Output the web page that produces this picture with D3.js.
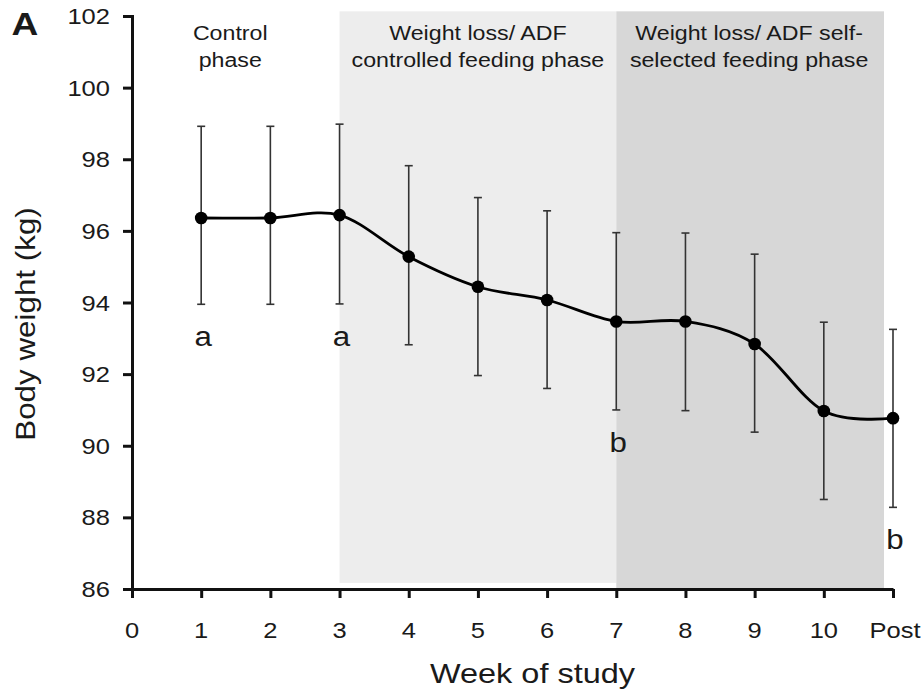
<!DOCTYPE html>
<html>
<head>
<meta charset="utf-8">
<script src="https://cdn.jsdelivr.net/npm/d3@7"></script>
<style>
  body { margin: 0; background: #fff; }
  text { font-family: "Liberation Sans", Arial, sans-serif; fill: #1a1a1a; }
</style>
</head>
<body>
<svg id="chart"></svg>
<script>
// data
const weeks = [1, 2, 3, 4, 5, 6, 7, 8, 9, 10, 11];
const meanWeight = [96.36, 96.36, 96.44, 95.28, 94.44, 94.07, 93.47, 93.47, 92.84, 90.97, 90.77];
const upperBar = [98.92, 98.92, 98.98, 97.82, 96.93, 96.56, 95.95, 95.94, 95.35, 93.45, 93.25];
const lowerBar = [93.95, 93.95, 93.96, 92.82, 91.96, 91.60, 91.00, 90.98, 90.38, 88.50, 88.28];
const xTickValues = [0, 1, 2, 3, 4, 5, 6, 7, 8, 9, 10, 11];
const xTickLabels = ['0', '1', '2', '3', '4', '5', '6', '7', '8', '9', '10', 'Post'];
const yTickValues = [86, 88, 90, 92, 94, 96, 98, 100, 102];
const phaseStart = [3, 7];
const phaseEnd = [7, 10.87];
const phaseColor = ['#ededed', '#d7d7d7'];
const phaseLabels = [
    {x: 1.42, lines: ['Control', 'phase']},
    {x: 5.0, lines: ['Weight loss/ ADF', 'controlled feeding phase']},
    {x: 8.92, lines: ['Weight loss/ ADF self-', 'selected feeding phase']}
];
const sigWeeks = [1, 3, 7, 11];
const sigLetters = ['a', 'a', 'b', 'b'];

const width = 924, height = 689;
const margin = {top: 16, right: 31, bottom: 100, left: 132};
const sx = 1.16; // the source figure is a bit stretched sideways

const svg = d3.select('#chart').attr('width', width).attr('height', height);

const xScale = d3.scaleLinear().domain([0, 11]).range([margin.left, width - margin.right]);
const yScale = d3.scaleLinear().domain([86, 102]).range([height - margin.bottom, margin.top]);

// stretched text helper
function label(g, x, y, txt, size, anchor, weight) {
    return g.append('text')
        .attr('transform', `translate(${x},${y}) scale(${sx},1)`)
        .attr('text-anchor', anchor || 'middle')
        .style('font-size', size + 'px')
        .style('font-weight', weight || 'normal')
        .text(txt);
}

// phase shading
svg.selectAll('.phase')
    .data(phaseStart)
    .join('rect')
    .attr('class', 'phase')
    .attr('x', d => xScale(d))
    .attr('y', yScale(102.13))
    .attr('width', (d, i) => xScale(phaseEnd[i]) - xScale(d))
    .attr('height', (d, i) => yScale(i === 0 ? 86.17 : 86) - yScale(102.13))
    .attr('fill', (d, i) => phaseColor[i]);

// phase titles
phaseLabels.forEach(p => {
    p.lines.forEach((line, j) => {
        label(svg, xScale(p.x), 40 + j * 27, line, 20);
    });
});

// axes
const yAxis = d3.axisLeft(yScale).tickValues(yTickValues).tickSize(9).tickPadding(12);
const xAxis = d3.axisBottom(xScale).tickValues(xTickValues).tickSize(9).tickSizeOuter(0)
    .tickFormat((d, i) => xTickLabels[i]);

const yAxisG = svg.append('g')
    .attr('transform', `translate(${margin.left},0)`)
    .call(yAxis);
const xAxisG = svg.append('g')
    .attr('transform', `translate(0,${height - margin.bottom})`)
    .call(xAxis);

[xAxisG, yAxisG].forEach(g => {
    g.select('.domain').attr('stroke', '#111').attr('stroke-width', 3);
    g.selectAll('.tick line').attr('stroke', '#111').attr('stroke-width', 3);
    g.selectAll('.tick text').remove();
});
svg.select('.domain');

yTickValues.forEach(v => {
    label(svg, margin.left - 22, yScale(v) + 8, v, 22, 'end');
});
xTickValues.forEach((v, i) => {
    label(svg, xScale(v) + (i === 11 ? 2 : 0), height - margin.bottom + 49, xTickLabels[i], 22);
});

// axis titles
label(svg, (margin.left + width - margin.right) / 2 + 20, 683, 'Week of study', 28);
svg.append('text')
    .attr('transform', `translate(35,${yScale(93.4)}) rotate(-90) scale(1.12,1)`)
    .attr('text-anchor', 'middle')
    .style('font-size', '28px')
    .text('Body weight (kg)');

label(svg, 25, 35, 'A', 32, 'middle', 'bold');

// error bars
const bars = svg.append('g');
bars.selectAll('.err')
    .data(weeks)
    .join('line')
    .attr('class', 'err')
    .attr('x1', d => xScale(d)).attr('x2', d => xScale(d))
    .attr('y1', (d, i) => yScale(upperBar[i]))
    .attr('y2', (d, i) => yScale(lowerBar[i]))
    .attr('stroke', '#333').attr('stroke-width', 1.6);
[upperBar, lowerBar].forEach(arr => {
    bars.selectAll(null)
        .data(weeks)
        .join('line')
        .attr('x1', d => xScale(d) - 4).attr('x2', d => xScale(d) + 4)
        .attr('y1', (d, i) => yScale(arr[i]))
        .attr('y2', (d, i) => yScale(arr[i]))
        .attr('stroke', '#333').attr('stroke-width', 1.6);
});

// smoothed line + markers
const line = d3.line()
    .x((d, i) => xScale(weeks[i]))
    .y(d => yScale(d))
    .curve(d3.curveCardinal.tension(0));

svg.append('path')
    .datum(meanWeight)
    .attr('d', line)
    .attr('fill', 'none')
    .attr('stroke', '#000')
    .attr('stroke-width', 2.8);

svg.selectAll('.point')
    .data(meanWeight)
    .join('circle')
    .attr('class', 'point')
    .attr('cx', (d, i) => xScale(weeks[i]))
    .attr('cy', d => yScale(d))
    .attr('r', 6.3)
    .attr('fill', '#000');

// significance letters under the bars
sigWeeks.forEach((w, i) => {
    const idx = weeks.indexOf(w);
    label(svg, xScale(w) + 2, yScale(lowerBar[idx]) + 42, sigLetters[i], 27);
});
</script>
</body>
</html>
